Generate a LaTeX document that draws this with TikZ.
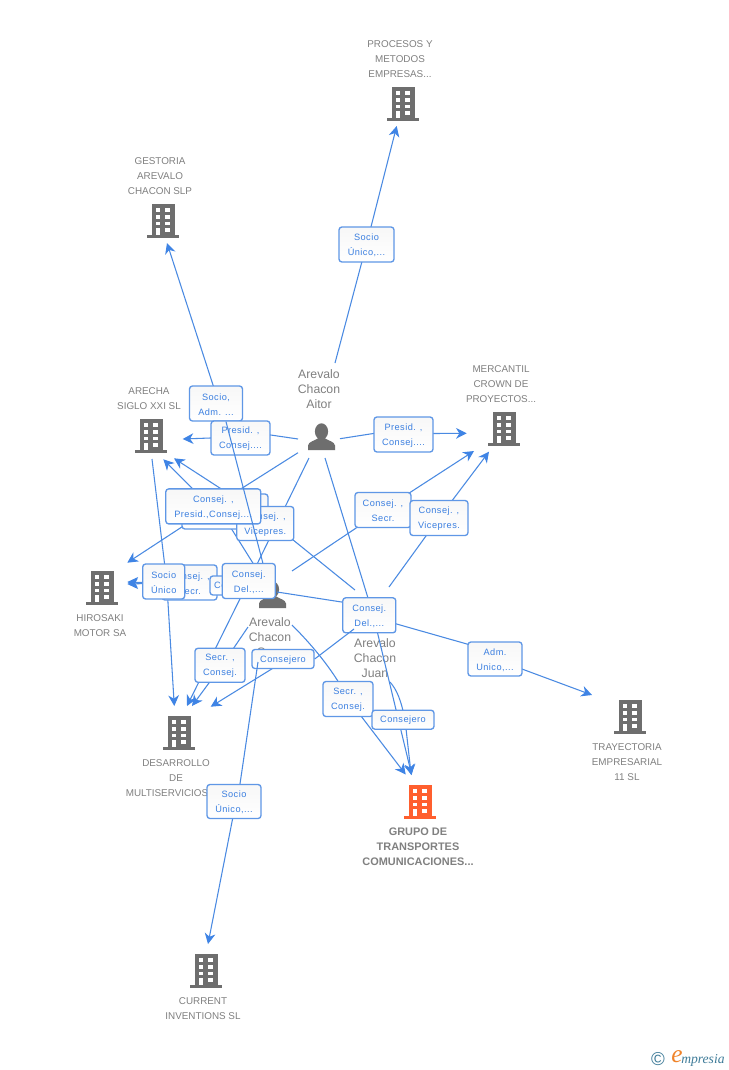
\documentclass[tikz,border=0pt]{standalone}
\usepackage{fontspec}
\setmainfont{Liberation Sans}
\newfontfamily\boxfont[LetterSpace=5]{Liberation Sans}
\newfontfamily\logofont{Liberation Serif}
\usetikzlibrary{arrows.meta,calc}
\pgfdeclarelayer{under}\pgfdeclarelayer{lines}\pgfdeclarelayer{over}
\pgfsetlayers{under,lines,main,over}
\definecolor{lineblue}{HTML}{4A8AE2}
\definecolor{tipblue}{HTML}{3F84E5}
\definecolor{edgeblue}{HTML}{5F97E6}
\definecolor{boxtext}{HTML}{3B7FE0}
\definecolor{graytext}{HTML}{808080}
\definecolor{icongray}{HTML}{6E6E6E}
\definecolor{iconorange}{HTML}{FF5F2E}
\definecolor{logoblue}{HTML}{3F7C99}
\definecolor{logoorange}{HTML}{F0842A}
\tikzset{
  link/.style={draw=lineblue,line width=0.8pt,line join=round},
  arrowlink/.style={link,-{Stealth[length=8pt,width=8pt,inset=2.5pt,color=tipblue]}},
  labelbox/.style={draw=edgeblue,line width=1pt,rounded corners=2.2pt,top color=black!3,bottom color=white,
    inner sep=0pt,align=center,text=boxtext,font=\boxfont\fontsize{6.9}{11.25}\selectfont},
  cotext/.style={align=center,text=graytext,inner sep=0pt,font=\fontsize{7.4}{11.25}\selectfont},
  pertext/.style={align=center,text=graytext,inner sep=0pt,font=\fontsize{9.2}{11.25}\selectfont},
  maintext/.style={align=center,text=graytext,inner sep=0pt,font=\bfseries\fontsize{8.2}{11.25}\selectfont},
  pics/bldg/.style={code={
    \fill[#1] (-11.5,-17) rectangle (11.5,14);
    \fill[#1] (-16,14) rectangle (16,17);
    \foreach \yy/\hh in {-12.7/-8.7,-6/-2.3,0.7/4.3}{
      \fill[white] (-7.3,\yy) rectangle (-2.7,\hh);
      \fill[white] (2.3,\yy) rectangle (7.3,\hh);}
    \fill[white] (2.3,7) rectangle (7.3,11);
    \fill[white] (-7.3,7) rectangle (-2.7,14);
  }},
  pics/pers/.style={code={
    \fill[icongray] (0,-5) ellipse (6.6 and 8.2);
    \fill[icongray] (-13.5,13.5) -- (-13.5,9) .. controls (-13,5) and (-7,4.5) .. (-3,1.5)
      -- (3,1.5) .. controls (7,4.5) and (13,5) .. (13.5,9) -- (13.5,13.5) -- cycle;
  }}
}
\newcommand{\bx}[6][]{\node[labelbox,minimum width=#4*0.75pt,minimum height=#5*0.75pt,#1] (#2) at (#3) {\rule{0pt}{6.2pt}#6};}
\newcommand{\lnk}[4]{\coordinate (#1s) at (#2);\coordinate (#1t) at (#3);
  \begin{pgfonlayer}{lines}\draw[arrowlink] (#1s) -- #4 -- (#1t);\end{pgfonlayer}}
\begin{document}
\begin{tikzpicture}[x=0.75pt,y=-0.75pt]
\useasboundingbox (0,0) rectangle (728,1070);
\begin{pgfonlayer}{under}
\fill[white] (0,0) rectangle (728,1070);
\end{pgfonlayer}

% label boxes
\bx{B1}{366.5,244.5}{55}{35}{Socio\\Único,...}
\bx{B2}{216,403.5}{53}{35}{Socio,\\Adm. ...}
\bx{B3}{240.5,438}{59}{34}{Presid. ,\\Consej....}
\bx{B4}{403.5,434.5}{59}{35}{Presid. ,\\Consej....}
\bx{B6}{225,511.5}{86}{35}{}
\bx{B7}{265.3,523.5}{57}{34}{Consej. ,\\Vicepres.}
\bx{B5}{213.3,506.4}{95}{35}{Consej. ,\\Presid.,Consej....}
\bx{B8}{383,510}{56}{35}{Consej. ,\\Secr.}
\bx{B9}{439,518}{58}{35}{Consej. ,\\Vicepres.}
\bx{B11}{189.5,582.5}{55}{35}{Consej. ,\\Secr.}
\bx{B10}{163.7,581.5}{42}{35}{Socio\\Único}
\bx{B12}{237,585.5}{54}{19}{Consejero}
\bx{B13}{248.8,581}{53}{35}{Consej.\\Del.,...}
\bx{B14}{369.3,615.3}{53}{35}{Consej.\\Del.,...}
\bx{B15}{495,659}{54}{34}{Adm.\\Unico,...}
\bx{B16}{220,665.3}{50}{34}{Secr. ,\\Consej.}
\bx{B17}{283,659}{62}{19}{Consejero}
\bx{B18}{348,699}{50}{35}{Secr. ,\\Consej.}
\bx{B19}{403,719.7}{62}{19}{Consejero}
\bx{B20}{234,801.5}{54}{34}{Socio\\Único,...}

% connectors
\lnk{a}{335,363}{396.7,126}{(B1.center)}
\coordinate (bt) at (167,243);
\begin{pgfonlayer}{lines}\draw[arrowlink] ($(B2.center)+(3,0)$) -- (bt);\end{pgfonlayer}
\begin{pgfonlayer}{over}\draw[link] ($(B13.north)+(14,0)$) -- ($(B2.south)+(10,0)$);\end{pgfonlayer}
\lnk{c}{298,439}{182.7,439}{($(B3.east)+(0,-3)$) -- (B3.west)}
\lnk{d}{340,438.7}{466.7,433.3}{($(B4.west)+(0,-1)$) -- ($(B4.east)+(0,-1)$)}
\lnk{e}{298,452.7}{127.3,562.7}{(B5.center)}
\lnk{f}{309,458}{187,706}{(B13.center)}
\lnk{g}{248,627}{192,706}{($(B16.center)+(2,0)$)}
\lnk{i}{152,459}{174.3,706}{($(B10.center)+(3,0)$)}
\lnk{j}{260,590}{127.3,582}{(B12.center)}
\lnk{k}{260,592}{127.3,584}{(B11.center)}
\lnk{l}{355,590}{174,458.3}{($(B7.center)+(0,-6)$)}
\lnk{m}{256,568}{163.3,459.3}{($(B6.south)+(7,0)$) -- ($(B5.center)+(-21,-18)$)}
\lnk{n}{292,571}{474,451}{(B8.center)}
\lnk{o}{389,587}{489,451.7}{(B9.center)}
\lnk{p}{325,458}{411.7,775}{($(B14.center)+(4,0)$)}
\coordinate (qs) at (277,592);
\begin{pgfonlayer}{lines}\draw[link] (qs) -- ($(B14.center)+(0,-9)$);\end{pgfonlayer}
\coordinate (rs) at (372,617);\coordinate (rt) at (592,695);
\begin{pgfonlayer}{lines}\draw[arrowlink] (rs) -- ($(B15.center)+(0,-7)$) -- (B15.center) -- (rt);\end{pgfonlayer}
\coordinate (ss) at (390,682);\coordinate (st) at (411.2,775);
\begin{pgfonlayer}{lines}\draw[arrowlink] (ss) .. controls (397,690) and (401,700) .. ($(B19.center)+(2,0)$) -- (st);\end{pgfonlayer}
\coordinate (ts) at (292,625);\coordinate (tt) at (405.7,774.5);
\begin{pgfonlayer}{lines}\draw[arrowlink] (ts) .. controls (315,648) and (335,673) .. (B18.center) -- (tt);\end{pgfonlayer}
% ends that lie over a box
\coordinate (hs) at (354,629);\coordinate (ht) at (210.7,706.7);
\begin{pgfonlayer}{lines}\draw[arrowlink] ($(B17.center)+(0,3)$) -- (ht);\end{pgfonlayer}
\begin{pgfonlayer}{over}\draw[link] (hs) -- ($(B17.east)+(0,0)$);\end{pgfonlayer}
\coordinate (us) at (258,662);\coordinate (ut) at (208,944);
\begin{pgfonlayer}{lines}\draw[arrowlink] ($(B20.center)+(2,0)$) -- (ut);\end{pgfonlayer}
\begin{pgfonlayer}{over}\draw[link] (us) -- ($(B20.north)+(6,0)$);\end{pgfonlayer}

% companies and people (under the connectors)
\begin{pgfonlayer}{under}
\pic (cProcesos) at (403,104) {bldg=icongray};
\pic (cGestoria) at (163,221) {bldg=icongray};
\pic (cArecha) at (151,436) {bldg=icongray};
\pic (cMercantil) at (504,429) {bldg=icongray};
\pic (cHirosaki) at (102,588) {bldg=icongray};
\pic (cDesarrollo) at (179,733) {bldg=icongray};
\pic (cGrupo) at (420,802) {bldg=iconorange};
\pic (cTrayectoria) at (630,717) {bldg=icongray};
\pic (cCurrent) at (206,971) {bldg=icongray};
\pic (pAitor) at (321.5,436.5) {pers};
\pic (pCarlos) at (272.5,594.5) {pers};
\node[cotext] (tProcesos) at (400,59) {PROCESOS Y\\METODOS\\EMPRESAS...};
\node[cotext] (tGestoria) at (160,176) {GESTORIA\\AREVALO\\CHACON SLP};
\node[cotext] (tArecha) at (149,398.5) {ARECHA\\SIGLO XXI SL};
\node[cotext] (tMercantil) at (501,384) {MERCANTIL\\CROWN DE\\PROYECTOS...};
\node[cotext] (tHirosaki) at (100,625.5) {HIROSAKI\\MOTOR SA};
\node[cotext] (tDesarrollo) at (176,778) {DESARROLLO\\DE\\MULTISERVICIOS\rule{13.5pt}{0pt}};
\node[maintext] (tGrupo) at (418,847) {GRUPO DE\\TRANSPORTES\\COMUNICACIONES...};
\node[cotext] (tTrayectoria) at (627,762) {TRAYECTORIA\\EMPRESARIAL\\11 SL};
\node[cotext] (tCurrent) at (203,1008.5) {CURRENT\\INVENTIONS SL};
\node[pertext] (tAitor) at (319,389) {Arevalo\\Chacon\\Aitor};
\node[pertext] (tC) at (270,637) {Arevalo\\Chacon\\\makebox[20pt][l]{C}};
\node[pertext] (tJuan) at (375,658) {Arevalo\\Chacon\\Juan};
\end{pgfonlayer}

% logo
\node[inner sep=0pt,text=logoblue,font=\fontsize{14}{14}\selectfont] (lC) at (658,1059) {©};
\node[inner sep=0pt,text=logoorange,font=\logofont\itshape\fontsize{19}{19}\selectfont] (lE) at (677,1057) {e};
\node[inner sep=0pt,anchor=base west,text=logoblue,font=\logofont\itshape\fontsize{10.2}{10}\selectfont] (lM) at (681,1063) {mpresia};
\end{tikzpicture}
\end{document}
